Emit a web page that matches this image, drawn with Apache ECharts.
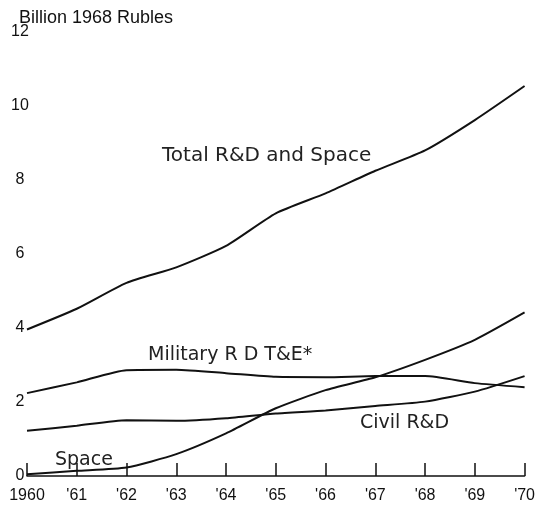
<!DOCTYPE html>
<html>
<head>
<meta charset="utf-8">
<script src="https://cdn.jsdelivr.net/npm/echarts@6/dist/echarts.min.js"></script>
<style>
  html, body { margin: 0; padding: 0; background: #fff; }
  #chart { width: 538px; height: 512px; }
</style>
</head>
<body>
<div id="chart"></div>
<script>
// years along the bottom, as printed
const years = ["1960", "'61", "'62", "'63", "'64", "'65", "'66", "'67", "'68", "'69", "'70"];

// billion 1968 rubles
const totalRDSpace = [3.96, 4.52, 5.22, 5.64, 6.22, 7.1, 7.64, 8.25, 8.8, 9.62, 10.54];
const militaryRDTE = [2.24, 2.53, 2.86, 2.87, 2.78, 2.68, 2.67, 2.7, 2.7, 2.51, 2.4];
const civilRD = [1.22, 1.36, 1.51, 1.49, 1.56, 1.69, 1.77, 1.89, 2.01, 2.28, 2.7];
const space = [0.05, 0.14, 0.23, 0.59, 1.15, 1.83, 2.32, 2.67, 3.14, 3.68, 4.42];

const yMin = 0;
const yMax = 12;
const yStep = 2;

const ink = "#111";
const labelFont = "DejaVu Sans";
const tickFont = "Liberation Sans";

function lineSeries(name, data) {
  return {
    name: name,
    type: "line",
    data: data,
    smooth: 0.2,
    showSymbol: false,
    silent: true,
    lineStyle: { color: ink, width: 2 }
  };
}

const chart = echarts.init(document.getElementById("chart"), null, { renderer: "canvas" });

chart.setOption({
  backgroundColor: "#fff",
  animation: false,
  title: {
    text: "Billion 1968 Rubles",
    left: 14,
    top: 4,
    textStyle: { fontFamily: tickFont, fontSize: 18, fontWeight: "normal", color: ink }
  },
  grid: { left: 27, right: 6, top: 32, bottom: 36, containLabel: false },
  xAxis: {
    type: "category",
    data: years,
    boundaryGap: false,
    axisLine: { lineStyle: { color: ink, width: 1.5 } },
    axisTick: { inside: true, length: 13, lineStyle: { color: ink, width: 1.5 } },
    axisLabel: { color: ink, fontFamily: tickFont, fontSize: 16, margin: 12 },
    splitLine: { show: false }
  },
  yAxis: {
    type: "value",
    min: yMin,
    max: yMax,
    interval: yStep,
    axisLine: { show: false },
    axisTick: { show: false },
    splitLine: { show: false },
    axisLabel: { color: ink, fontFamily: tickFont, fontSize: 16, align: "center", margin: 7 }
  },
  graphic: [
    { type: "text", left: 162, top: 146, style: { text: "Total R&D and Space", font: "20px " + labelFont, fill: "#222" } },
    { type: "text", left: 148, top: 346, style: { text: "Military R D T&E*", font: "19px " + labelFont, fill: "#222" } },
    { type: "text", left: 360, top: 414, style: { text: "Civil R&D", font: "19px " + labelFont, fill: "#222" } },
    { type: "text", left: 55, top: 451, style: { text: "Space", font: "19px " + labelFont, fill: "#222" } }
  ],
  series: [
    lineSeries("Total R&D and Space", totalRDSpace),
    lineSeries("Military R D T&E", militaryRDTE),
    lineSeries("Civil R&D", civilRD),
    lineSeries("Space", space)
  ]
});
</script>
</body>
</html>
